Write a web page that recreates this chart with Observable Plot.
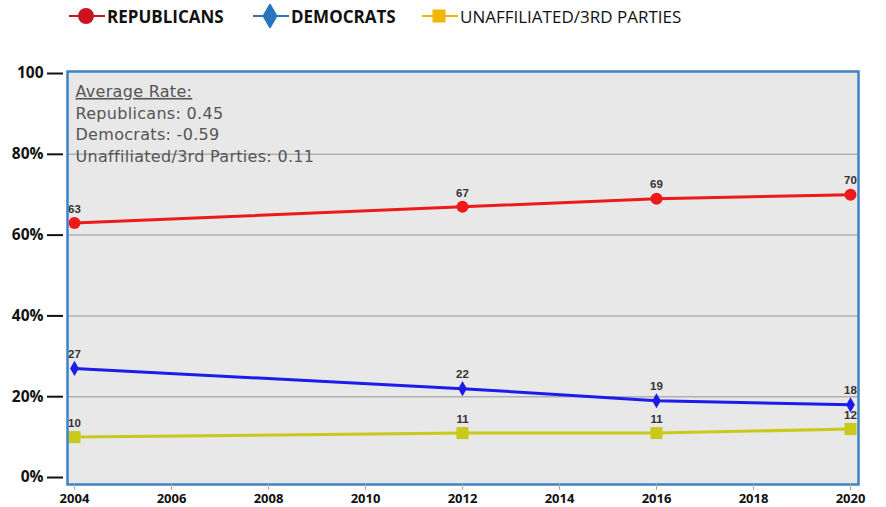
<!DOCTYPE html>
<html><head><meta charset="utf-8">
<script src="https://cdn.jsdelivr.net/npm/d3@7"></script>
<script src="https://cdn.jsdelivr.net/npm/@observablehq/plot@0.6"></script>
<style>
body{margin:0;background:#fff;font-family:"Open Sans",sans-serif}
#legend{height:35px;position:relative}
.item{position:absolute;top:4px;display:flex;align-items:center;font-size:17px;color:#111;letter-spacing:0px}
.item svg{margin-right:2px}
</style></head>
<body><div id="legend"></div><div id="chart"></div>
<script>
const years = [2004, 2012, 2016, 2020];
const republicans = [63, 67, 69, 70];
const democrats = [27, 22, 19, 18];
const unaffiliated = [10, 11, 11, 12];
const seriesNames = ["Republicans", "Democrats", "Unaffiliated/3rd Parties"];
const legendLabels = ["REPUBLICANS", "DEMOCRATS", "UNAFFILIATED/3RD PARTIES"];
const averageRates = ["0.45", "-0.59", "0.11"];
const yTicks = [0, 20, 40, 60, 80, 100];
const yTickLabels = ["0%", "20%", "40%", "60%", "80%", "100"];
const xTicks = [2004, 2006, 2008, 2010, 2012, 2014, 2016, 2018, 2020];

const seriesValues = [republicans, democrats, unaffiliated];
const lineColors = ["#ee1a1a", "#1c1ced", "#c9c91c"];
const legendColors = ["#c8151f", "#2a74bd", "#f2b705"];
const symbols = ["circle", "diamond", "square"];
const dotR = [6, 4.6, 6.8];
const legendLeft = [69, 253, 422];
const legendWeight = [700, 700, 400];

// Legend
const legend = d3.select("#legend");
legendLabels.forEach((lab, i) => {
  const it = legend.append("div").attr("class", "item").style("left", legendLeft[i] + "px").style("font-weight", legendWeight[i]);
  const s = it.append("svg").attr("width", 36).attr("height", 24);
  s.append("line").attr("x1", 0).attr("x2", 36).attr("y1", 12).attr("y2", 12).attr("stroke", legendColors[i]).attr("stroke-width", 2);
  const sym = [d3.symbolCircle, d3.symbolDiamond, d3.symbolSquare][i];
  s.append("path").attr("transform", "translate(17,12)").attr("d", d3.symbol(sym, [200, 200, 170][i])()).attr("fill", legendColors[i]);
  it.append("span").text(lab);
});

const rows = seriesNames.map((name, s) => years.map((y, i) => ({year: y, value: seriesValues[s][i], party: name})));
const annotation = ["Average Rate:", ...seriesNames.map((n, i) => `${n}: ${averageRates[i]}`)].join("\n");

const marks = [
  Plot.frame({fill: "#e8e8e8"}),
  Plot.ruleY([20, 40, 60, 80], {stroke: "#b0b0b0", strokeWidth: 1.5}),
  Plot.text([annotation], {frameAnchor: "top-left", dx: 8, dy: 10, lineHeight: 1.36, fontSize: 16, fill: "#555", className: "annot", fontFamily: "DejaVu Sans", textAnchor: "start"})
];
rows.forEach((data, s) => {
  marks.push(Plot.lineY(data, {x: "year", y: "value", stroke: lineColors[s], strokeWidth: 3}));
  marks.push(Plot.dot(data, {x: "year", y: "value", symbol: () => symbols[s], r: dotR[s], fill: lineColors[s]}));
  marks.push(Plot.text(data, {x: "year", y: "value", text: d => String(d.value), dy: -14, fontSize: 11.5, fontWeight: "bold", fill: "#333", fontFamily: "Liberation Sans"}));
});
marks.push(
  Plot.frame({stroke: "#3d82c2", strokeWidth: 2.5}),
  Plot.axisY(yTicks, {label: null, tickSize: 16, dx: -4, tickPadding: 4, strokeWidth: 2, stroke: "#111", tickFormat: d => yTickLabels[yTicks.indexOf(d)], fontSize: 15.5, fontWeight: "bold", fill: "#111", fontFamily: "Open Sans"}),
  Plot.axisX(xTicks, {label: null, tickSize: 6, tickPadding: 3, stroke: "#aaa", tickFormat: d => String(d), fontSize: 13, fontWeight: "bold", fill: "#111", fontFamily: "Open Sans"})
);

const chart = Plot.plot({
  width: 886, height: 472,
  marginTop: 36, marginBottom: 23, marginLeft: 67, marginRight: 28,
  x: {domain: [2003.856, 2020.165]},
  y: {domain: [-1.73, 100.5]},
  symbol: {type: "identity"},
  style: {background: "transparent", overflow: "visible"},
  marks
});
document.getElementById("chart").appendChild(chart);
chart.querySelectorAll(".annot text").forEach(e => e.style.letterSpacing = "0.3px");
const first = chart.querySelector(".annot tspan");
if (first) first.setAttribute("text-decoration", "underline");
</script></body></html>
